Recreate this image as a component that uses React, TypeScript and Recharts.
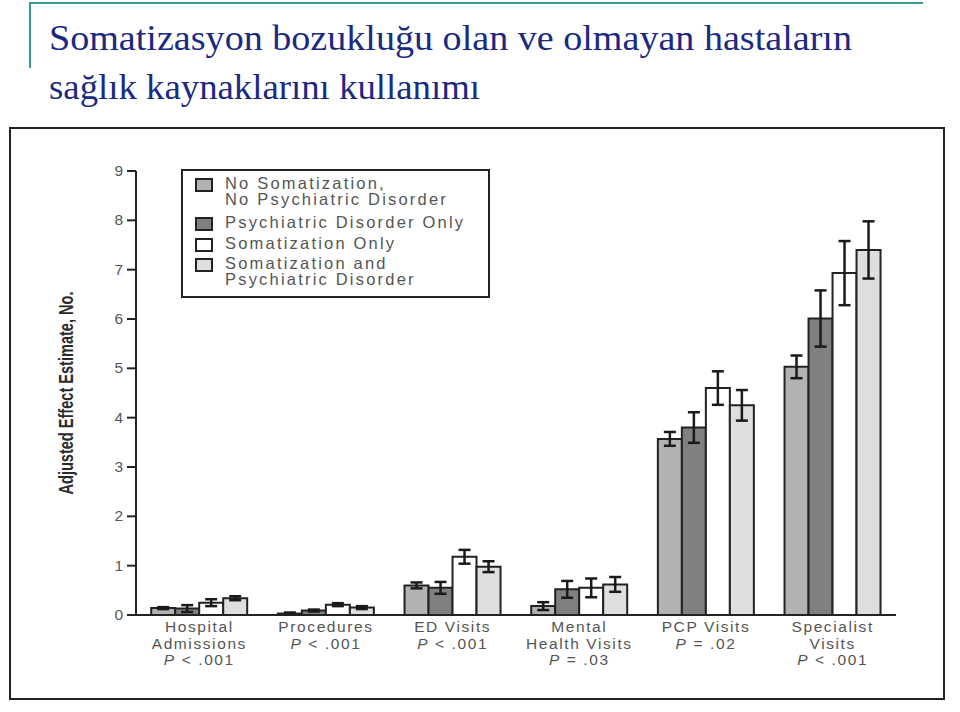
import React from 'react';
import { BarChart, Bar, XAxis, YAxis, ErrorBar, Legend } from 'recharts';

const titleLines = ['Somatizasyon bozukluğu olan ve olmayan hastaların', 'sağlık kaynaklarını kullanımı'];
const titleWidths = [803, 431];

const categories = ['Hospital Admissions', 'Procedures', 'ED Visits', 'Mental Health Visits', 'PCP Visits', 'Specialist Visits'];
const categoryLines = [['Hospital', 'Admissions'], ['Procedures'], ['ED Visits'], ['Mental', 'Health Visits'], ['PCP Visits'], ['Specialist', 'Visits']];
const pValues = ['< .001', '< .001', '< .001', '= .03', '= .02', '< .001'];

const seriesNames = [
  'No Somatization,\nNo Psychiatric Disorder',
  'Psychiatric Disorder Only',
  'Somatization Only',
  'Somatization and\nPsychiatric Disorder',
];
const seriesColors = ['#b2b2b2', '#808080', '#ffffff', '#dedede'];

const noSomNoPsych = [0.14, 0.03, 0.6, 0.18, 3.57, 5.03];
const psychOnly = [0.13, 0.09, 0.55, 0.52, 3.8, 6.01];
const somOnly = [0.25, 0.21, 1.18, 0.55, 4.6, 6.93];
const somAndPsych = [0.34, 0.15, 0.98, 0.62, 4.25, 7.4];

const errNoSomNoPsych = [0.02, 0.02, 0.06, 0.08, 0.14, 0.23];
const errPsychOnly = [0.07, 0.02, 0.12, 0.17, 0.31, 0.57];
const errSomOnly = [0.07, 0.03, 0.14, 0.19, 0.34, 0.65];
const errSomAndPsych = [0.04, 0.03, 0.11, 0.15, 0.31, 0.58];

const yTicks = [0, 1, 2, 3, 4, 5, 6, 7, 8, 9];

const data = categories.map((c, i) => ({
  name: c,
  s1: noSomNoPsych[i],
  s2: psychOnly[i],
  s3: somOnly[i],
  s4: somAndPsych[i],
  e1: errNoSomNoPsych[i],
  e2: errPsychOnly[i],
  e3: errSomOnly[i],
  e4: errSomAndPsych[i],
}));

const AXIS = '#222';
const TEXT = '#555';

const XTick = (props: any) => {
  const { x, y, index } = props;
  const lines = categoryLines[index] || [];
  const lh = 16.5;
  return (
    <g>
      {lines.map((l: string, k: number) => (
        <text key={k} x={x} y={y + 9 + k * lh} textAnchor="middle" fontFamily="'Liberation Sans', Arial, sans-serif" fontSize={15.5} letterSpacing={1.6} fill={TEXT}>
          {l}
        </text>
      ))}
      <text x={x} y={y + 9 + lines.length * lh} textAnchor="middle" fontFamily="'Liberation Sans', Arial, sans-serif" fontSize={15.5} letterSpacing={1.6} fill={TEXT}>
        <tspan fontStyle="italic">P</tspan>
        <tspan>{' ' + pValues[index]}</tspan>
      </text>
    </g>
  );
};

const YTick = (props: any) => {
  const { x, y, payload } = props;
  return (
    <text x={x - 2} y={y} dy={5} textAnchor="end" fontFamily="'Liberation Sans', Arial, sans-serif" fontSize={15.5} fill={TEXT}>
      {payload.value}
    </text>
  );
};

const YLabel = (props: any) => {
  const vb = props.viewBox || {};
  const cy = (vb.y || 0) + (vb.height || 0) / 2;
  const cx = 66;
  return (
    <text
      x={cx}
      y={cy}
      transform={`rotate(-90, ${cx}, ${cy})`}
      textAnchor="middle"
      dominantBaseline="central"
      fontFamily="'Liberation Sans Narrow', 'Arial Narrow', 'Liberation Sans', sans-serif"
      fontWeight="bold"
      fontSize={20}
      textLength={203}
      lengthAdjust="spacingAndGlyphs"
      fill="#2a2a2a"
    >
      Adjusted Effect Estimate, No.
    </text>
  );
};

const legendLayout = [
  { square: 9, text: 7 },
  { square: 48, text: 46 },
  { square: 69, text: 67 },
  { square: 89, text: 87 },
];

const LegendBox = (props: any) => {
  const payload = props.payload || [];
  return (
    <div
      style={{
        position: 'relative',
        width: 309,
        height: 129,
        border: '2px solid #222',
        boxSizing: 'border-box',
        background: '#fff',
        fontFamily: "'Liberation Sans', Arial, sans-serif",
      }}
    >
      {payload.map((p: any, i: number) => (
        <div key={i}>
          <div
            style={{
              position: 'absolute',
              left: 12,
              top: legendLayout[i].square - 2,
              width: 18,
              height: 14,
              border: '2px solid #222',
              boxSizing: 'border-box',
              background: seriesColors[i],
            }}
          />
          <div
            style={{
              position: 'absolute',
              left: 42,
              top: legendLayout[i].text - 2,
              fontSize: 16.5,
              lineHeight: '15.5px',
              letterSpacing: 2.2,
              color: TEXT,
              whiteSpace: 'pre-line',
            }}
          >
            {p.value}
          </div>
        </div>
      ))}
    </div>
  );
};

export default function App() {
  return (
    <div style={{ position: 'absolute', left: 0, top: 0, width: 960, height: 712, background: '#fff', overflow: 'hidden' }}>
      <div style={{ position: 'absolute', left: 29, top: 2, width: 894, height: 2, background: '#3a9a98' }} />
      <div style={{ position: 'absolute', left: 29, top: 2, width: 2, height: 66, background: '#3a9a98' }} />
      <svg width={960} height={120} style={{ position: 'absolute', left: 0, top: 0 }}>
        {titleLines.map((t, i) => (
          <text
            key={i}
            x={49}
            y={50 + i * 49}
            fontFamily="'Liberation Serif', 'Times New Roman', serif"
            fontSize={36}
            textLength={titleWidths[i]}
            lengthAdjust="spacingAndGlyphs"
            fill="#1a2a82"
          >
            {t}
          </text>
        ))}
      </svg>
      <div style={{ position: 'absolute', left: 9, top: 127, width: 936, height: 573, border: '2px solid #222', boxSizing: 'border-box' }} />
      <div style={{ position: 'absolute', left: 0, top: 0 }}>
        <BarChart
          width={960}
          height={712}
          data={data}
          margin={{ top: 171, right: 64, bottom: 37, left: 0 }}
          barCategoryGap="12%"
          barGap={0}
        >
          <XAxis
            dataKey="name"
            axisLine={{ stroke: AXIS, strokeWidth: 2 }}
            tickLine={false}
            tick={<XTick />}
            height={60}
            interval={0}
          />
          <YAxis
            domain={[0, 9]}
            ticks={yTicks}
            width={136}
            axisLine={{ stroke: AXIS, strokeWidth: 2 }}
            tickLine={{ stroke: AXIS, strokeWidth: 2 }}
            tickSize={9}
            tick={<YTick />}
            label={<YLabel />}
          />
          <Legend
            layout="horizontal"
            verticalAlign="middle"
            align="center"
            content={<LegendBox />}
            wrapperStyle={{ left: 181, top: 169, width: 309, height: 129 }}
          />
          <Bar dataKey="s1" name={seriesNames[0]} fill={seriesColors[0]} stroke={AXIS} strokeWidth={2} isAnimationActive={false}>
            <ErrorBar dataKey="e1" width={6} stroke="#1a1a1a" strokeWidth={2.5} direction="y" />
          </Bar>
          <Bar dataKey="s2" name={seriesNames[1]} fill={seriesColors[1]} stroke={AXIS} strokeWidth={2} isAnimationActive={false}>
            <ErrorBar dataKey="e2" width={6} stroke="#1a1a1a" strokeWidth={2.5} direction="y" />
          </Bar>
          <Bar dataKey="s3" name={seriesNames[2]} fill={seriesColors[2]} stroke={AXIS} strokeWidth={2} isAnimationActive={false}>
            <ErrorBar dataKey="e3" width={6} stroke="#1a1a1a" strokeWidth={2.5} direction="y" />
          </Bar>
          <Bar dataKey="s4" name={seriesNames[3]} fill={seriesColors[3]} stroke={AXIS} strokeWidth={2} isAnimationActive={false}>
            <ErrorBar dataKey="e4" width={6} stroke="#1a1a1a" strokeWidth={2.5} direction="y" />
          </Bar>
        </BarChart>
      </div>
    </div>
  );
}
